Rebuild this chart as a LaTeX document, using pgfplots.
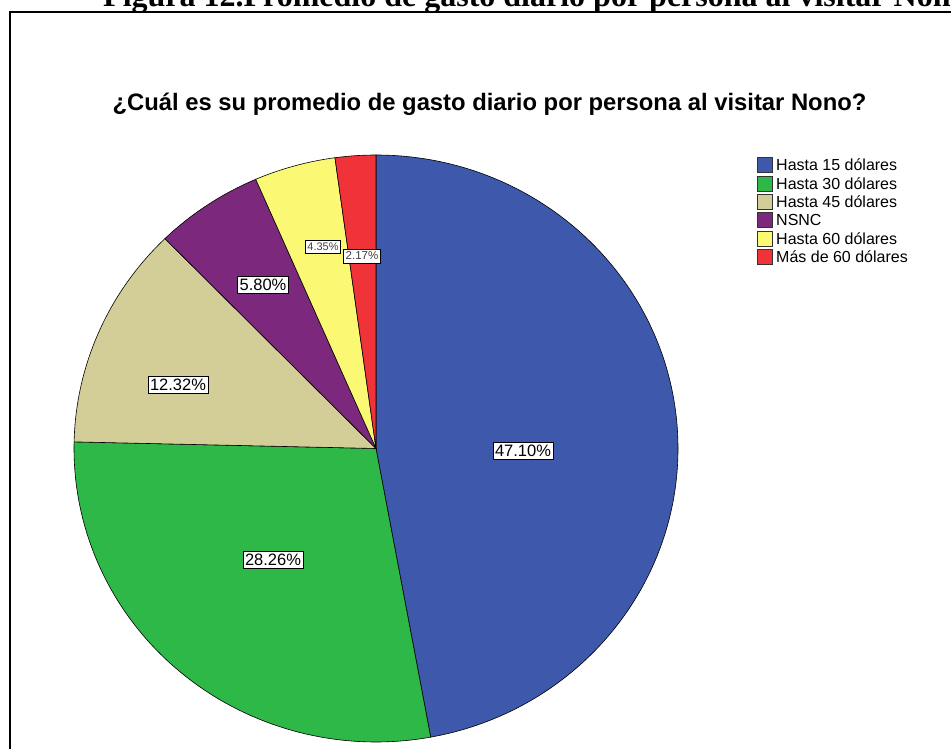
\documentclass[border=0pt]{standalone}
\usepackage{pgfplots}
\pgfplotsset{compat=1.18}
\usepackage{fontspec}
\setmainfont{Liberation Sans}
\newfontfamily\timesfont{Liberation Serif}

\definecolor{sBlue}{HTML}{3E58AC}
\definecolor{sGreen}{HTML}{2EB848}
\definecolor{sBeige}{HTML}{D3CE97}
\definecolor{sPurple}{HTML}{7C287D}
\definecolor{sYellow}{HTML}{FBF873}
\definecolor{sRed}{HTML}{EF3338}

% center of the pie, in picture units (1 unit = 1pt); radii 302pt x 293.5pt
\def\cx{376}
\def\cy{448.5}

% #1 cumulative percent before the slice, #2 percent of the slice, #3 colour
\newcommand{\slice}[3]{%
  \filldraw[fill=#3, draw=black, line width=0.6pt]
    (axis cs:\cx,\cy) -- ++({90-3.6*#1}:302pt and 293.5pt)
    arc[start angle={90-3.6*#1}, delta angle={-3.6*#2}, x radius=302pt, y radius=293.5pt]
    -- cycle;
}
\newcommand{\legitem}[3]{%
  \filldraw[fill=#2, draw=black!80, line width=0.5pt]
    (axis cs:757,#1-7.5) rectangle (axis cs:772,#1+7.5);
  \node[anchor=west, inner sep=0pt, font=\fontsize{16}{18}\selectfont]
    at (axis cs:776,#1) {#3};
}

\begin{document}
\begin{tikzpicture}
\begin{axis}[
  width=951pt, height=749pt, scale only axis,
  xmin=0, xmax=951, ymin=0, ymax=749,
  y dir=reverse, enlargelimits=false,
  hide axis, clip=true,
]
% percentages: Hasta 15, Hasta 30, Hasta 45, NSNC, Hasta 60, Mas de 60
\slice{0}{47.10}{sBlue}
\slice{47.10}{28.26}{sGreen}
\slice{75.36}{12.32}{sBeige}
\slice{87.68}{5.80}{sPurple}
\slice{93.48}{4.35}{sYellow}
\slice{97.83}{2.17}{sRed}

\tikzset{lab/.style={draw=black, fill=white, line width=0.8pt, inner xsep=2pt, inner ysep=3pt}}
\node[lab, font=\fontsize{16.5}{18}\selectfont] at (axis cs:523,451) {47.10\%};
\node[lab, font=\fontsize{16.5}{18}\selectfont] at (axis cs:273,560) {28.26\%};
\node[lab, font=\fontsize{16.5}{18}\selectfont] at (axis cs:178,385) {12.32\%};
\node[lab, font=\fontsize{16.5}{18}\selectfont] at (axis cs:263,285) {5.80\%};
\node[lab, font=\fontsize{11}{13}\selectfont, text=black!75] at (axis cs:323,247) {4.35\%};
\node[lab, font=\fontsize{11.5}{13}\selectfont, text=black!75] at (axis cs:362,256) {2.17\%};

\legitem{165}{sBlue}{Hasta 15 dólares}
\legitem{183.3}{sGreen}{Hasta 30 dólares}
\legitem{201.6}{sBeige}{Hasta 45 dólares}
\legitem{220}{sPurple}{NSNC}
\legitem{238.3}{sYellow}{Hasta 60 dólares}
\legitem{256.6}{sRed}{Más de 60 dólares}

\node[anchor=base, font=\bfseries\fontsize{23.8}{26}\selectfont] at (axis cs:489.5,111)
  {¿Cuál es su promedio de gasto diario por persona al visitar Nono?};

\draw[line width=2pt] (axis cs:10,749) -- (axis cs:10,12.3) -- (axis cs:951,12.3);

\begin{scope}
\clip (axis cs:0,0) rectangle (axis cs:951,749);
\node[anchor=base west, inner sep=0pt, font=\timesfont\bfseries\fontsize{32}{36}\selectfont]
  at (axis cs:103,7) {Figura 12.Promedio de gasto diario por persona al visitar Nono};
\end{scope}
\coordinate (bl) at (axis cs:0,749);
\coordinate (tr) at (axis cs:951,0);
\end{axis}
\pgfresetboundingbox
\path (bl) rectangle (tr);
\end{tikzpicture}
\end{document}
